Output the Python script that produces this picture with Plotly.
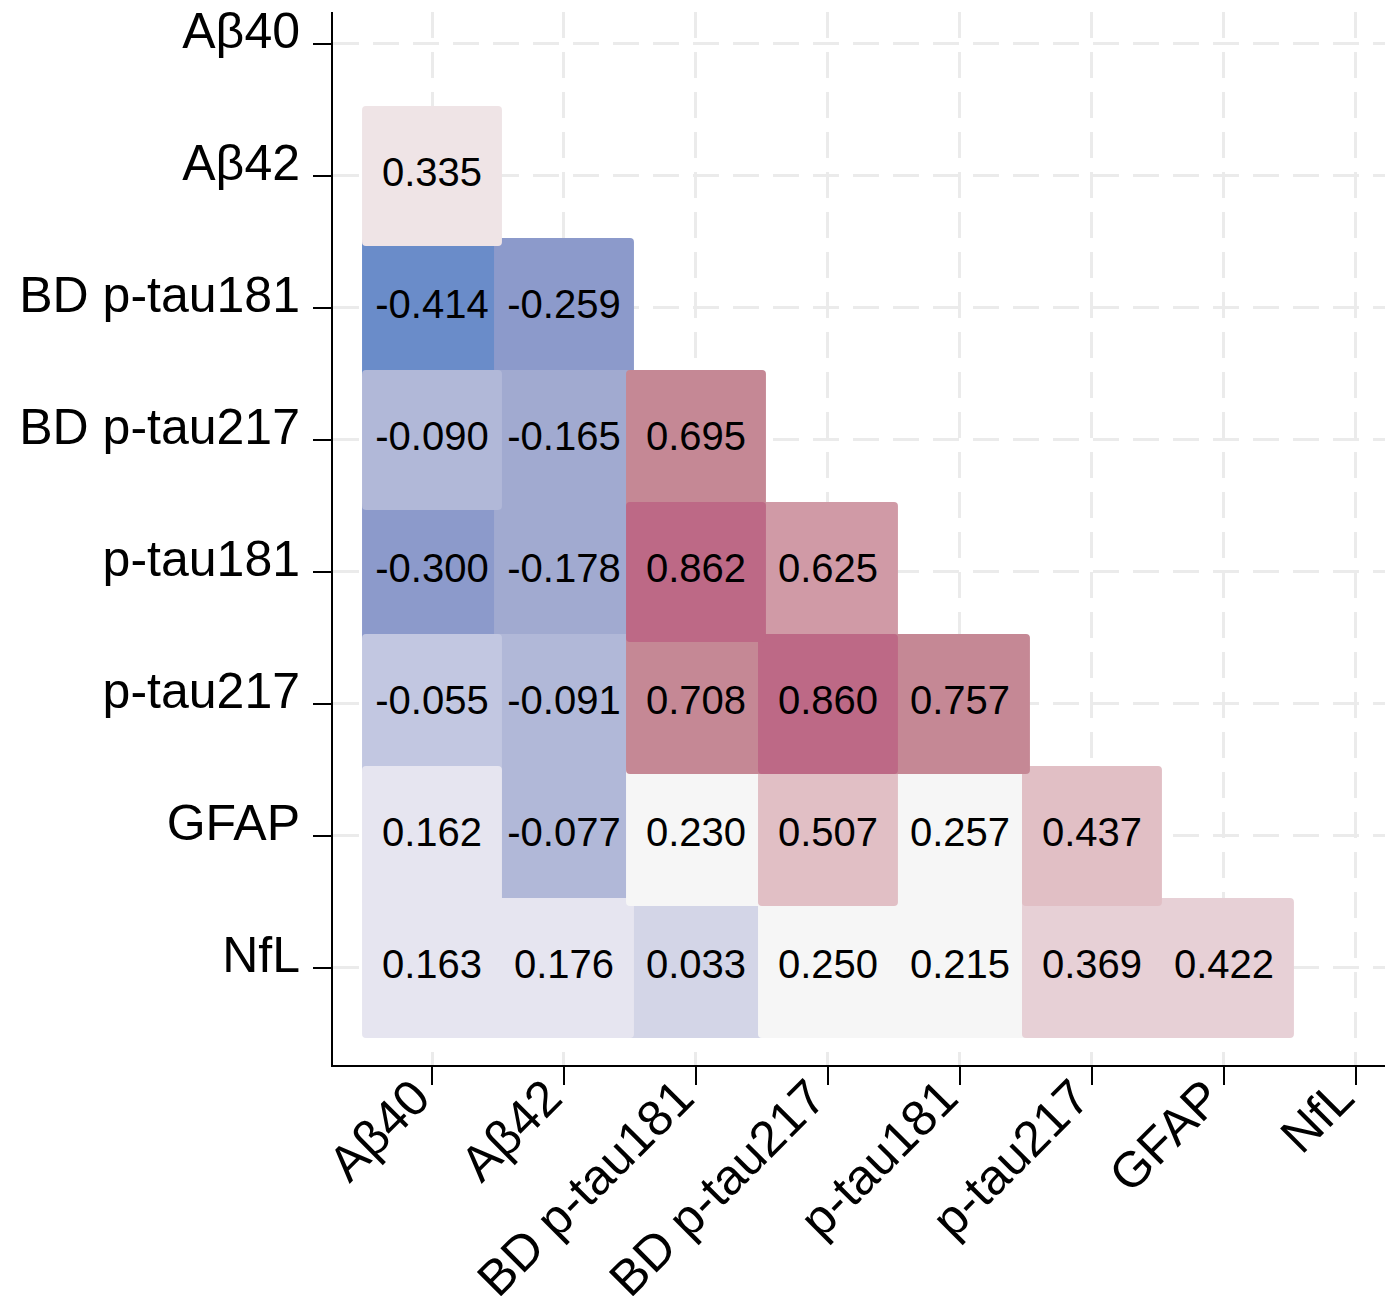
import plotly.graph_objects as go

# ---- data ----
labels = ["Aβ40", "Aβ42", "BD p-tau181", "BD p-tau217", "p-tau181", "p-tau217", "GFAP", "NfL"]
row_Ab42 = [0.335]
row_BD181 = [-0.414, -0.259]
row_BD217 = [-0.090, -0.165, 0.695]
row_p181 = [-0.300, -0.178, 0.862, 0.625]
row_p217 = [-0.055, -0.091, 0.708, 0.860, 0.757]
row_GFAP = [0.162, -0.077, 0.230, 0.507, 0.257, 0.437]
row_NfL = [0.163, 0.176, 0.033, 0.250, 0.215, 0.369, 0.422]
rows = [[], row_Ab42, row_BD181, row_BD217, row_p181, row_p217, row_GFAP, row_NfL]

# ---- style ----
palette = ["#6a8cc9", "#8c9acb", "#a1aad0", "#b1b8d8", "#c2c7e1", "#d3d5e7", "#e6e5f0",
           "#f6f6f6", "#efe4e6", "#e7d0d6", "#e1bfc5", "#d8adb6", "#d09aa6", "#c58895", "#bd6986"]
FONT = "Arial, Liberation Sans, sans-serif"
half = 0.53   # half cell size in axis units
rad = 0.03    # corner radius

cells = []
for r, vals in enumerate(rows):
    for c, v in enumerate(vals):
        cells.append((v, c, r))
allv = [v for v, _, _ in cells]
vmin, vmax = min(allv), max(allv)

def color_of(v):
    t = (v - vmin) / (vmax - vmin)
    i = min(int(t * len(palette) + 1e-9), len(palette) - 1)
    return palette[i]

def rounded(cx, cy, h, rr):
    x0, x1, y0, y1 = cx - h, cx + h, cy - h, cy + h
    return (f"M {x0+rr},{y0} L {x1-rr},{y0} Q {x1},{y0} {x1},{y0+rr} "
            f"L {x1},{y1-rr} Q {x1},{y1} {x1-rr},{y1} L {x0+rr},{y1} "
            f"Q {x0},{y1} {x0},{y1-rr} L {x0},{y0+rr} Q {x0},{y0} {x0+rr},{y0} Z")

shapes = []
for v, c, r in sorted(cells, key=lambda t: t[0]):
    shapes.append(dict(type="path", xref="x", yref="y", path=rounded(c, r, half, rad),
                       fillcolor=color_of(v), line=dict(width=0), layer="between"))

fig = go.Figure()
fig.add_trace(go.Scatter(
    x=[c for _, c, _ in cells], y=[r for _, _, r in cells],
    text=[f"{v:.3f}" for v, _, _ in cells], mode="text",
    textfont=dict(family=FONT, size=40, color="black"),
    hoverinfo="skip", showlegend=False, cliponaxis=False))

axis_common = dict(
    showline=True, linecolor="black", linewidth=2,
    ticks="outside", ticklen=18, tickwidth=2, tickcolor="black",
    showgrid=True, gridcolor="#ebebeb", gridwidth=2.5, griddash="26px,14px",
    zeroline=False, tickfont=dict(family=FONT, size=50, color="black"),
    tickvals=list(range(len(labels))), ticktext=labels, automargin=False,
    ticklabeloverflow="allow",
)
fig.update_xaxes(range=[-0.75, 7.22], tickangle=-45,
                 ticklabelstandoff=-37, ticklabelshift=-17, **axis_common)
fig.update_yaxes(range=[7.735, -0.242], ticklabelstandoff=3, ticklabelshift=13,
                 **axis_common)

fig.update_layout(
    width=1393, height=1296,
    margin=dict(l=325, r=16, t=4, b=239),
    plot_bgcolor="white", paper_bgcolor="white",
    shapes=shapes,
)
fig.write_html("out.html")
